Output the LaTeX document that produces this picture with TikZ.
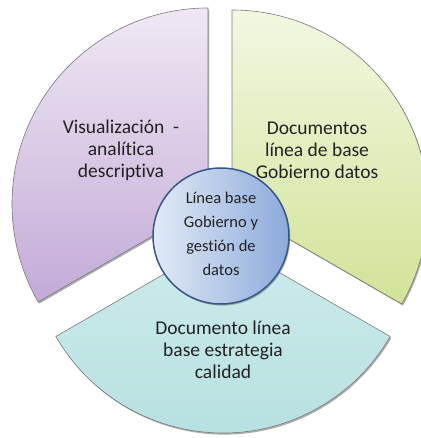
\documentclass[tikz,border=0pt]{standalone}
\usepackage{fontspec}
\setmainfont{Carlito}[Ligatures=NoCommon]
\usetikzlibrary{shadows}
\definecolor{purpTop}{HTML}{EFE8F3}
\definecolor{purpBot}{HTML}{C3AAD8}
\definecolor{greenTop}{HTML}{F2F7E1}
\definecolor{greenBot}{HTML}{D2E398}
\definecolor{tealTop}{HTML}{CDEBEC}
\definecolor{tealBot}{HTML}{B5DFDF}
\definecolor{circL}{HTML}{E2EAF6}
\definecolor{circR}{HTML}{8CAADB}
\definecolor{circB}{HTML}{35578A}
\definecolor{edgeC}{HTML}{7A7A7A}
\definecolor{txt}{HTML}{222222}
\tikzset{
  sector/.style={draw=edgeC, line width=0.6pt,
    drop shadow={shadow xshift=1.2pt, shadow yshift=-1.6pt, opacity=0.45, fill=black!70}},
  sectortext/.style={align=center, text=txt, font=\fontsize{19.5}{22}\selectfont},
  hubtext/.style={align=center, text=txt, font=\fontsize{16.5}{24}\selectfont},
}
\begin{document}
\begin{tikzpicture}[x=1pt,y=1pt]
\useasboundingbox (0,0) rectangle (420,438);
% purple sector
\coordinate (pa) at (208,234);
\path[sector, top color=purpTop, bottom color=purpBot]
  (pa) -- ++(90:196) arc[start angle=90, end angle=210, radius=196pt] -- cycle;
% green sector
\coordinate (ga) at (232,232);
\path[sector, top color=greenTop, bottom color=greenBot]
  (ga) -- ++(90:196) arc[start angle=90, end angle=-30, radius=196pt] -- cycle;
% teal sector
\coordinate (ta) at (223,198);
\path[sector, top color=tealTop, bottom color=tealBot]
  (ta) -- ++(210:193) arc[start angle=210, end angle=330, radius=193pt] -- cycle;
% hub
\node[circle, minimum size=136pt, draw=circB, line width=1.5pt,
      left color=circL, right color=circR,
      drop shadow={shadow xshift=1.2pt, shadow yshift=-1.6pt, opacity=0.4, fill=black!70}]
  (hub) at (221,202) {};
% labels
\node[sectortext] (lp) at (121,288) {Visualización\ \ -\\analítica\\descriptiva};
\node[sectortext] (lg) at (317,288) {Documentos\\línea de base\\Gobierno datos};
\node[sectortext] (lt) at (223,88) {Documento línea\\base estrategia\\calidad};
\node[hubtext] (lh) at (221,204) {Línea base\\Gobierno y\\gestión de\\datos};
\end{tikzpicture}
\end{document}
